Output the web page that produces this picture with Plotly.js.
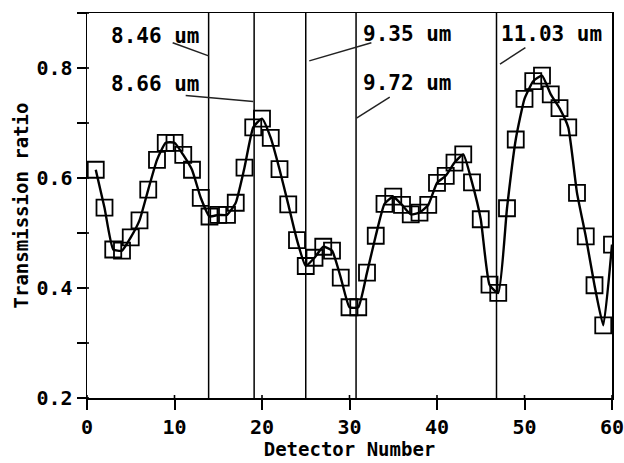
<!DOCTYPE html>
<html>
<head>
<meta charset="utf-8">
<script src="https://cdn.plot.ly/plotly-3.0.1.min.js"></script>
<style>html,body{margin:0;padding:0;background:#fff;}#chart{width:624px;height:463px;}</style>
</head>
<body>
<div id="chart"></div>
<script>
// Detector numbers and measured transmission ratio
const detector = [];
for (let i = 1; i <= 60; i++) detector.push(i);
const transmission = [
  0.615, 0.546, 0.470, 0.468, 0.492, 0.523, 0.579, 0.633, 0.664, 0.664,
  0.642, 0.615, 0.564, 0.530, 0.533, 0.533, 0.555, 0.619, 0.692, 0.708,
  0.673, 0.616, 0.552, 0.487, 0.440, 0.455, 0.475, 0.468, 0.419, 0.365,
  0.365, 0.428, 0.495, 0.553, 0.566, 0.551, 0.534, 0.537, 0.551, 0.591,
  0.604, 0.628, 0.643, 0.592, 0.525, 0.406, 0.391, 0.545, 0.670, 0.744,
  0.776, 0.786, 0.752, 0.727, 0.692, 0.573, 0.494, 0.405, 0.332, 0.479
];
// Wavelength boundaries (detector positions) and their labels
const boundaryX = [13.9, 19.1, 25.0, 30.75, 46.8];
const labelText = ["8.46 um", "8.66 um", "9.35 um", "9.72 um", "11.03 um"];
const labelX = [2.6, 2.6, 31.4, 31.4, 47.2];
const labelY = [0.859, 0.771, 0.862, 0.772, 0.862];
// leader lines: [x0, y0, x1, y1]
const leaderX0 = [9.79, 11.28, 25.4, 30.8, 47.2];
const leaderY0 = [0.846, 0.750, 0.813, 0.709, 0.807];
const leaderX1 = [13.9, 19.0, 32.5, 34.6, 50.1];
const leaderY1 = [0.822, 0.739, 0.846, 0.747, 0.837];
const yTickVals = [0.2, 0.3, 0.4, 0.5, 0.6, 0.7, 0.8, 0.9];
const yTickText = ["0.2", "", "0.4", "", "0.6", "", "0.8", ""];
const xTickVals = [0, 10, 20, 30, 40, 50, 60];
const yMin = 0.2, yMax = 0.9;

const FONT = "DejaVu Sans Mono, Liberation Mono, monospace";

const traces = [
  {
    x: detector, y: transmission, type: "scatter", mode: "lines",
    line: {color: "#000", width: 2.4, shape: "spline", smoothing: 0.45},
    hoverinfo: "skip", showlegend: false
  },
  {
    x: detector, y: transmission, type: "scatter", mode: "markers",
    marker: {symbol: "square-open", size: 16, color: "#000", line: {color: "#000", width: 1.8}},
    showlegend: false
  }
];

const shapes = [];
boundaryX.forEach(x => shapes.push({
  type: "line", xref: "x", yref: "y", x0: x, x1: x, y0: yMin, y1: yMax,
  line: {color: "#000", width: 1.5}
}));
leaderX0.forEach((x0, i) => shapes.push({
  type: "line", xref: "x", yref: "y", x0: x0, y0: leaderY0[i], x1: leaderX1[i], y1: leaderY1[i],
  line: {color: "#222", width: 1.5}
}));
// crossing tick marks on the y axis
yTickVals.forEach(v => shapes.push({
  type: "line", xref: "paper", yref: "y", xsizemode: "pixel", xanchor: 0,
  x0: -9, x1: 2, y0: v, y1: v, line: {color: "#000", width: 1.6}
}));

const annotations = labelText.map((t, i) => ({
  x: labelX[i], y: labelY[i], xref: "x", yref: "y", text: t, showarrow: false,
  xanchor: "left", yanchor: "middle", borderpad: 0,
  font: {family: FONT, size: 21, color: "#000", weight: "bold"}
}));
// crossing tick marks on the x axis (head-less arrows)
xTickVals.forEach(v => annotations.push({
  x: v, y: 0, xref: "x", yref: "paper", yshift: 3,
  showarrow: true, arrowhead: 0, arrowwidth: 1.6, arrowcolor: "#000",
  ax: 0, ay: 13, standoff: 0, startstandoff: 0
}));

const layout = {
  width: 624, height: 463,
  margin: {l: 87, r: 12, t: 13, b: 65},
  paper_bgcolor: "#fff", plot_bgcolor: "#fff",
  showlegend: false,
  xaxis: {
    range: [0, 60], tickmode: "array", tickvals: xTickVals, ticks: "outside", ticklen: 10, tickwidth: 2, tickcolor: "#000",
    ticklabelstandoff: 0, ticklabeloverflow: "allow",
    showgrid: false, zeroline: false, showline: true, linecolor: "#000", linewidth: 1.5, mirror: true,
    tickfont: {family: FONT, size: 20, color: "#000", weight: "bold"},
    title: {text: "Detector Number", standoff: 4, font: {family: FONT, size: 19, color: "#000", weight: "bold"}}
  },
  yaxis: {
    range: [yMin, yMax], tickmode: "array", tickvals: yTickVals, ticktext: yTickText, ticks: "outside", ticklen: 9, tickwidth: 2, tickcolor: "#000",
    showgrid: false, zeroline: false, showline: true, linecolor: "#000", linewidth: 1.5, mirror: true,
    tickfont: {family: FONT, size: 20, color: "#000", weight: "bold"},
    title: {text: "Transmission ratio", standoff: 2, font: {family: FONT, size: 19, color: "#000", weight: "bold"}}
  },
  shapes: shapes,
  annotations: annotations
};

Plotly.newPlot("chart", traces, layout, {displayModeBar: false, staticPlot: true});
</script>
</body>
</html>
